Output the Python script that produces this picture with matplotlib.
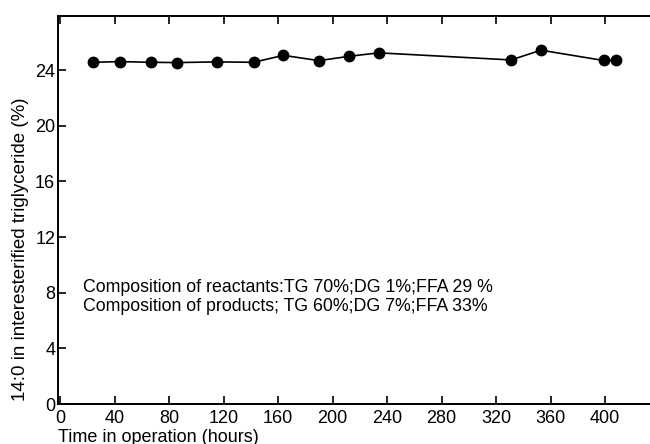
import matplotlib
matplotlib.use("Agg")
import matplotlib.pyplot as plt

# time in operation (hours) and 14:0 content (%)
hours = [24, 44, 67, 86, 115, 142, 164, 190, 212, 234, 331, 353, 399, 408]
c14 = [24.57, 24.62, 24.57, 24.55, 24.6, 24.57, 25.07, 24.69, 25.0, 25.25, 24.74, 25.44, 24.70, 24.70]

xticks = [0, 40, 80, 120, 160, 200, 240, 280, 320, 360, 400]
yticks = [0, 4, 8, 12, 16, 20, 24]

note = ("Composition of reactants:TG 70%;DG 1%;FFA 29 %\n"
        "Composition of products; TG 60%;DG 7%;FFA 33%")

plt.rcParams['font.family'] = ['Liberation Sans', 'DejaVu Sans']

fig = plt.figure(figsize=(6.5, 4.44), dpi=100)
ax = fig.add_axes([0.0892, 0.090, 0.9108, 0.874])

ax.plot(hours, c14, color='black', lw=1.2, marker='o', ms=7.5)

ax.set_xlim(-1.5, 433)
ax.set_ylim(0, 27.9)
ax.set_xticks(xticks)
ax.set_yticks(yticks)
ax.tick_params(direction='in', length=6, width=1.2, labelsize=13, pad=2,
               top=True, labeltop=False)
ax.tick_params(axis='x', pad=4)

for s in ['left', 'bottom', 'top']:
    ax.spines[s].set_linewidth(1.4)
ax.spines['right'].set_visible(False)

ax.set_ylabel("14:0 in interesterified triglyceride (%)", fontsize=13.5)
ax.yaxis.set_label_coords(-0.049, 0.40)
ax.text(0.0, -0.085, "Time in operation (hours)", transform=ax.transAxes,
        fontsize=13, ha='left', va='center')

ax.text(17, 7.7, note, fontsize=12.8, ha='left', va='center', linespacing=1.1)

fig.savefig("out.png", dpi=100)
